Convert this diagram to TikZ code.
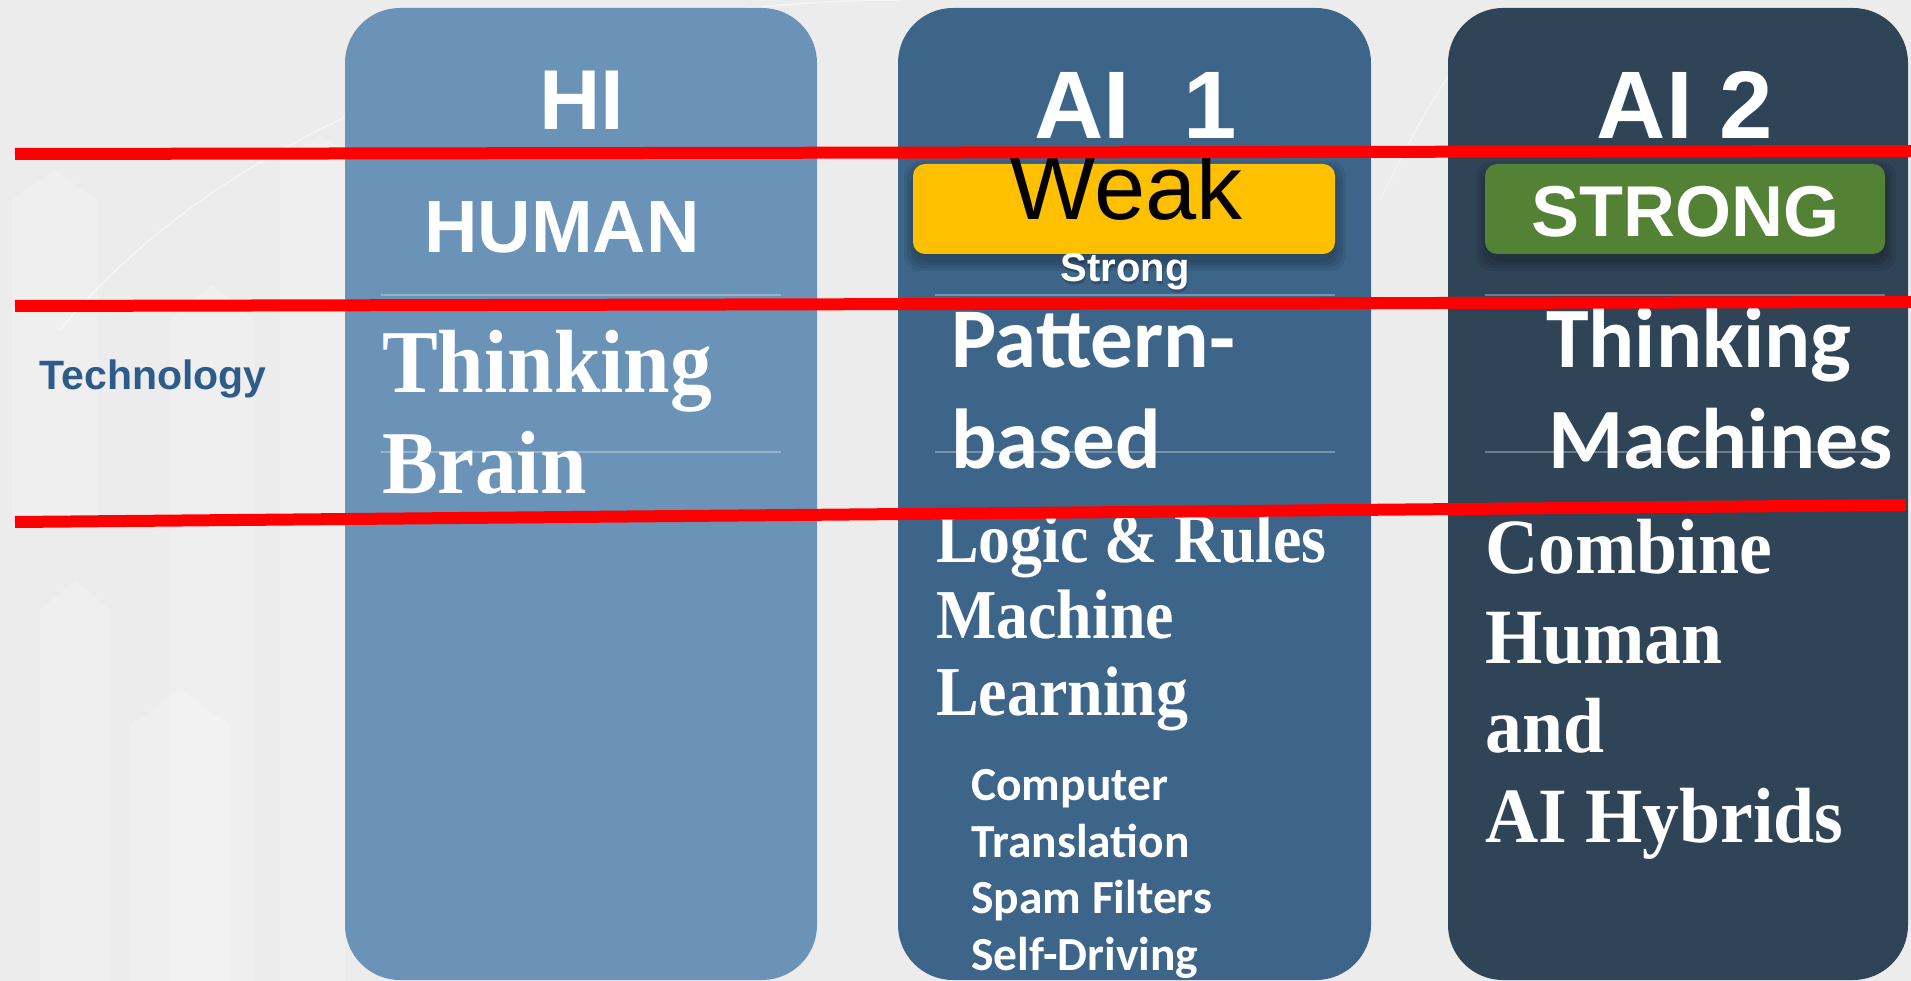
\documentclass[tikz,border=0pt]{standalone}
\usepackage{fontspec}
\usepackage{graphicx}
\newfontfamily\arialf{Liberation Sans}
\newfontfamily\tnrf{Liberation Serif}
\newfontfamily\calf{Carlito}
\definecolor{bgc}{RGB}{236,236,237}
\definecolor{colA}{RGB}{106,147,183}
\definecolor{colB}{RGB}{61,101,137}
\definecolor{colC}{RGB}{48,68,88}
\definecolor{techc}{RGB}{45,92,138}
\definecolor{weakc}{RGB}{255,192,0}
\definecolor{strongc}{RGB}{84,130,53}
\newcommand{\fs}[1]{\fontsize{#1}{#1}\selectfont}
\tikzset{
  colbox/.style={rounded corners=55pt},
  txt/.style={inner sep=0pt, text=white},
  badge/.style={rounded corners=12pt},
  softsh/.style={fill=black, fill opacity=0.07, rounded corners=16pt},
  divider/.style={draw=white, draw opacity=0.3, line width=2pt},
  redline/.style={draw=red, line width=12pt},
  faint/.style={fill=white, fill opacity=0.2}
}
\begin{document}
\begin{tikzpicture}[x=1pt,y=-1pt]
\useasboundingbox (0,0) rectangle (1911,981);
\fill[bgc] (0,0) rectangle (1911,981);
% faint background decoration
\fill[faint] (12,520) -- (12,200) -- (55,170) -- (98,200) -- (98,520) -- cycle;
\fill[faint] (170,981) -- (170,320) -- (212,285) -- (254,320) -- (254,981) -- cycle;
\fill[faint] (40,981) -- (40,610) -- (75,580) -- (110,610) -- (110,981) -- cycle;
\fill[faint] (130,981) -- (130,725) -- (180,690) -- (230,725) -- (230,981) -- cycle;
\fill[faint] (280,981) -- (280,160) -- (320,135) -- (345,150) -- (345,981) -- cycle;
\draw[white, opacity=0.5, line width=1.5pt] (60,330) .. controls (250,100) and (600,0) .. (900,0);
\draw[white, opacity=0.4, line width=1.5pt] (1380,200) .. controls (1420,120) and (1450,60) .. (1500,20);

% columns
\fill[colA, colbox] (345,8) rectangle (817,980);
\fill[colB, colbox] (898,8) rectangle (1371,980);
\fill[colC, colbox] (1448,8) rectangle (1908,980);

% dividers
\coordinate (d1a) at (381,295); \coordinate (d1b) at (781,295);
\coordinate (d2a) at (381,452); \coordinate (d2b) at (781,452);
\coordinate (d3a) at (935,295); \coordinate (d3b) at (1335,295);
\coordinate (d4a) at (935,452); \coordinate (d4b) at (1335,452);
\coordinate (d5a) at (1485,295); \coordinate (d5b) at (1885,295);
\coordinate (d6a) at (1485,452); \coordinate (d6b) at (1885,452);
\draw[divider] (d1a) -- (d1b);
\draw[divider] (d2a) -- (d2b);
\draw[divider] (d3a) -- (d3b);
\draw[divider] (d4a) -- (d4b);
\draw[divider] (d5a) -- (d5b);
\draw[divider] (d6a) -- (d6b);

% soft shadows under badges
\foreach \e in {0,3,6,9}{
  \fill[softsh] (913-\e,170-\e) rectangle (1337+\e,262+\e);
  \fill[softsh] (1485-\e,170-\e) rectangle (1887+\e,262+\e);
}
% badges
\fill[weakc, badge] (913,164) rectangle (1335,254);
\fill[strongc, badge] (1485,164) rectangle (1885,254);

% left label
\node[txt, text=techc, anchor=base] (tech) at (153,389) {\arialf\bfseries\fs{41}Technology};

% column 1
\node[txt, anchor=base] (hi) at (582,130) {\arialf\bfseries\fs{85}HI};
\node[txt, anchor=base] (human) at (562,253) {\arialf\bfseries\fs{74}HUMAN};
\node[txt, anchor=base west] (think1) at (382,392) {\scalebox{0.95}[1.02]{\tnrf\bfseries\fs{88}Thinking}};
\node[txt, anchor=base west] (brain) at (382,493) {\scalebox{0.95}[1.02]{\tnrf\bfseries\fs{88}Brain}};

% column 2
\node[txt, anchor=base west] (ai1) at (1034,139) {\arialf\bfseries\fs{96}AI~~1};
\node[txt, text=black, anchor=base] (weak) at (1126,220) {\arialf\fs{92}Weak};
\node[txt, text=black, opacity=0.2, anchor=base] (strongsh) at (1126,285) {\arialf\bfseries\fs{40}Strong};
\node[txt, anchor=base] (strongs) at (1125,282) {\arialf\bfseries\fs{40}Strong};
\node[txt, anchor=base west] (pattern) at (951,367) {\calf\bfseries\fs{85}Pattern-};
\node[txt, anchor=base west] (based) at (951,468) {\calf\bfseries\fs{85}based};
\node[txt, anchor=base west] (logic) at (936,562) {\scalebox{0.94}[1.03]{\tnrf\bfseries\fs{68}Logic \& Rules}};
\node[txt, anchor=base west] (machine) at (936,638) {\scalebox{0.94}[1.03]{\tnrf\bfseries\fs{68}Machine}};
\node[txt, anchor=base west] (learning) at (936,715) {\scalebox{0.94}[1.03]{\tnrf\bfseries\fs{68}Learning}};
\node[txt, anchor=base west] (comp) at (971,800) {\calf\bfseries\fs{47.5}Computer};
\node[txt, anchor=base west] (transl) at (971,857) {\calf\bfseries\fs{47.5}Translation};
\node[txt, anchor=base west] (spam) at (971,913) {\calf\bfseries\fs{47.5}Spam Filters};
\node[txt, anchor=base west] (selfd) at (971,970) {\calf\bfseries\fs{47.5}Self-Driving};

% column 3
\node[txt, anchor=base] (ai2) at (1685,139) {\arialf\bfseries\fs{96}AI 2};
\node[txt, anchor=base] (strongb) at (1685,237) {\arialf\bfseries\fs{72}STRONG};
\node[txt, anchor=base west] (think3) at (1546,367) {\calf\bfseries\fs{86}Thinking};
\node[txt, anchor=base west] (machines) at (1548,468) {\calf\bfseries\fs{86}Machines};
\node[txt, anchor=base west] (combine) at (1485,573) {\scalebox{0.97}[1.03]{\tnrf\bfseries\fs{76}Combine}};
\node[txt, anchor=base west] (humanw) at (1485,663) {\scalebox{0.97}[1.03]{\tnrf\bfseries\fs{76}Human}};
\node[txt, anchor=base west] (andw) at (1485,752) {\scalebox{0.97}[1.03]{\tnrf\bfseries\fs{76}and}};
\node[txt, anchor=base west] (hybrid) at (1485,842) {\scalebox{0.97}[1.03]{\tnrf\bfseries\fs{76}AI Hybrids}};

% red lines
\coordinate (r1a) at (15,154); \coordinate (r1b) at (1911,151);
\coordinate (r2a) at (15,306); \coordinate (r2b) at (1911,302);
\coordinate (r3a) at (15,522); \coordinate (r3b) at (1906,505);
\draw[redline] (r1a) -- (r1b);
\draw[redline] (r2a) -- (r2b);
\draw[redline] (r3a) -- (r3b);
\end{tikzpicture}
\end{document}
